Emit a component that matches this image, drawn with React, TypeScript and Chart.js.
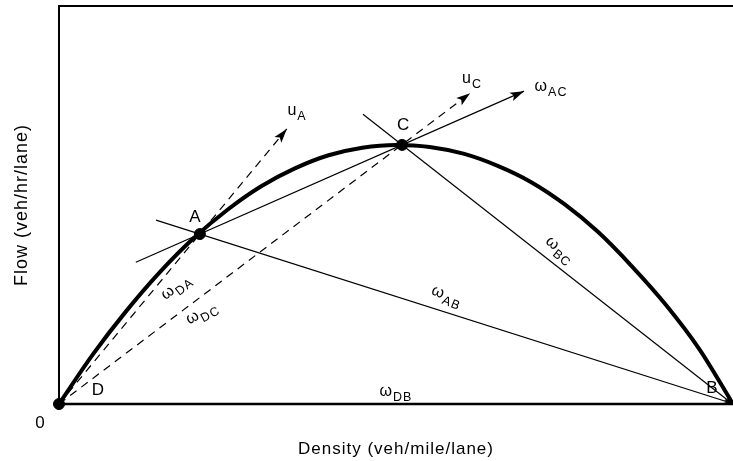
import React, { useEffect, useRef } from "react";
import { Chart, registerables } from "chart.js";

Chart.register(...registerables);

// Flow–density curve (density in % of jam density, flow in % of plot height)
const curveDensity = [0, 5, 10, 15, 20, 25, 30, 35, 40, 45, 50, 55, 60, 65, 70, 75, 80, 85, 90, 95, 100];
const curveFlow = [0, 12.4, 23.4, 33.2, 41.7, 48.8, 54.7, 59.2, 62.5, 64.4, 65.1, 64.6, 62.9, 59.9, 55.8, 50.2, 43.2, 34.6, 25.0, 13.8, 0];

// Named states on the curve
const stateNames = ["D", "A", "C", "B"];
const stateDensity = [0, 20.9, 50.9, 100];
const stateFlow = [0, 42.7, 65.1, 0];

// Rays and chords [start, end] in (density, flow)
const uADensity = [0, 33.8];
const uAFlow = [0, 69.1];
const uCDensity = [0, 61.0];
const uCFlow = [0, 78.1];
const wACDensity = [11.4, 69.0];
const wACFlow = [35.6, 78.6];
const wABDensity = [14.4, 99.8];
const wABFlow = [46.2, 0.2];
const wBCDensity = [45.1, 99.8];
const wBCFlow = [72.8, 0.2];

const xTitle = "Density (veh/mile/lane)";
const yTitle = "Flow (veh/hr/lane)";

const zip = (xs: number[], ys: number[]) => xs.map((x, i) => ({ x, y: ys[i] }));

const FONT = "'Liberation Sans', Arial, sans-serif";

function drawSub(ctx: CanvasRenderingContext2D, x: number, y: number, angleDeg: number, base: string, sub: string) {
  ctx.save();
  ctx.translate(x, y);
  ctx.rotate((angleDeg * Math.PI) / 180);
  ctx.fillStyle = "#000";
  ctx.textBaseline = "alphabetic";
  ctx.textAlign = "left";
  ctx.font = `16px ${FONT}`;
  (ctx as any).letterSpacing = "0px";
  const bw = ctx.measureText(base).width;
  ctx.font = `12.5px ${FONT}`;
  (ctx as any).letterSpacing = "1px";
  const sw = ctx.measureText(sub).width;
  const left = -(bw + 1 + sw) / 2;
  ctx.font = `16px ${FONT}`;
  (ctx as any).letterSpacing = "0px";
  ctx.fillText(base, left, 4);
  ctx.font = `12.5px ${FONT}`;
  (ctx as any).letterSpacing = "1px";
  ctx.fillText(sub, left + bw + 1, 9);
  ctx.restore();
}

function arrowHead(ctx: CanvasRenderingContext2D, x0: number, y0: number, x1: number, y1: number, len: number, half: number) {
  const a = Math.atan2(y1 - y0, x1 - x0);
  ctx.save();
  ctx.translate(x1, y1);
  ctx.rotate(a);
  ctx.beginPath();
  ctx.moveTo(0, 0);
  ctx.lineTo(-len, half);
  ctx.lineTo(-len + 3, 0);
  ctx.lineTo(-len, -half);
  ctx.closePath();
  ctx.fillStyle = "#000";
  ctx.fill();
  ctx.restore();
}

const decorPlugin = {
  id: "decor",
  afterDatasetsDraw(chart: any) {
    const ctx: CanvasRenderingContext2D = chart.ctx;
    const xs = chart.scales.x;
    const ys = chart.scales.y;
    const { left, right, top, bottom } = chart.chartArea;
    const px = (v: number) => xs.getPixelForValue(v);
    const py = (v: number) => ys.getPixelForValue(v);

    // frame / axes
    ctx.save();
    ctx.strokeStyle = "#000";
    ctx.lineWidth = 2;
    ctx.beginPath();
    ctx.moveTo(left, bottom);
    ctx.lineTo(left, top);
    ctx.lineTo(right, top);
    ctx.stroke();
    ctx.lineWidth = 2.5;
    ctx.beginPath();
    ctx.moveTo(left, bottom);
    ctx.lineTo(right, bottom);
    ctx.stroke();
    ctx.restore();

    // arrowheads
    arrowHead(ctx, px(uADensity[0]), py(uAFlow[0]), px(uADensity[1]), py(uAFlow[1]), 14, 4.5);
    arrowHead(ctx, px(uCDensity[0]), py(uCFlow[0]), px(uCDensity[1]), py(uCFlow[1]), 14, 4.5);
    arrowHead(ctx, px(wACDensity[0]), py(wACFlow[0]), px(wACDensity[1]), py(wACFlow[1]), 14, 4.5);
    arrowHead(ctx, px(wABDensity[0]), py(wABFlow[0]), px(wABDensity[1]), py(wABFlow[1]), 8, 2.5);
    arrowHead(ctx, px(wBCDensity[0]), py(wBCFlow[0]), px(wBCDensity[1]), py(wBCFlow[1]), 8, 2.5);

    // state letters, offset from their points
    const offsets: Record<string, [number, number]> = { D: [39, -14], A: [-5, -17], C: [1, -20], B: [-21, -16] };
    ctx.save();
    ctx.fillStyle = "#000";
    ctx.font = `17px ${FONT}`;
    ctx.textAlign = "center";
    ctx.textBaseline = "middle";
    stateNames.forEach((n, i) => {
      const o = offsets[n];
      ctx.fillText(n, px(stateDensity[i]) + o[0], py(stateFlow[i]) + o[1]);
    });
    ctx.fillText("0", left - 19, bottom + 19);
    ctx.restore();

    // wave / speed labels
    drawSub(ctx, 297, 111, 0, "u", "A");
    drawSub(ctx, 472, 79, 0, "u", "C");
    drawSub(ctx, 551, 87, 0, "ω", "AC");
    drawSub(ctx, 396, 392, 0, "ω", "DB");
    drawSub(ctx, 176, 287, -38, "ω", "DA");
    drawSub(ctx, 202, 313, -28, "ω", "DC");
    drawSub(ctx, 447, 296, 22, "ω", "AB");
    drawSub(ctx, 560, 250, 40, "ω", "BC");

    // axis titles
    ctx.save();
    ctx.fillStyle = "#000";
    ctx.font = `17px ${FONT}`;
    (ctx as any).letterSpacing = "1px";
    ctx.textAlign = "center";
    ctx.textBaseline = "middle";
    ctx.fillText(xTitle, (left + right) / 2, bottom + 45);
    ctx.font = `18px ${FONT}`;
    ctx.translate(22, (top + bottom) / 2);
    ctx.rotate(-Math.PI / 2);
    ctx.fillText(yTitle, 0, 0);
    ctx.restore();
  },
};

export default function App() {
  const ref = useRef<HTMLCanvasElement | null>(null);
  useEffect(() => {
    if (!ref.current) return;
    const solid = { borderColor: "#000", borderWidth: 1.2, pointRadius: 0, showLine: true, clip: false as any, fill: false };
    const dashed = { ...solid, borderDash: [8, 6] };
    const chart = new Chart(ref.current, {
      type: "scatter",
      data: {
        datasets: [
          { ...solid, label: "curve", data: zip(curveDensity, curveFlow), borderWidth: 4, tension: 0.4, cubicInterpolationMode: "monotone" } as any,
          { ...dashed, label: "uA", data: zip(uADensity, uAFlow) },
          { ...dashed, label: "uC", data: zip(uCDensity, uCFlow) },
          { ...solid, label: "wAC", data: zip(wACDensity, wACFlow) },
          { ...solid, label: "wAB", data: zip(wABDensity, wABFlow) },
          { ...solid, label: "wBC", data: zip(wBCDensity, wBCFlow) },
          {
            label: "states",
            data: zip(stateDensity.slice(0, 3), stateFlow.slice(0, 3)),
            pointRadius: 5.5,
            pointBackgroundColor: "#000",
            pointBorderColor: "#000",
            showLine: false,
            clip: false as any,
          },
        ],
      },
      options: {
        animation: false,
        responsive: false,
        maintainAspectRatio: false,
        devicePixelRatio: 1,
        layout: { autoPadding: false, padding: { left: 59, right: 0, top: 6, bottom: 57 } },
        plugins: { legend: { display: false }, tooltip: { enabled: false } },
        scales: {
          x: { type: "linear", min: 0, max: 100, display: false },
          y: { type: "linear", min: 0, max: 100, display: false },
        },
      },
      plugins: [decorPlugin],
    });
    return () => chart.destroy();
  }, []);
  return (
    <div style={{ position: "fixed", left: 0, top: 0, width: 733, height: 461, background: "#fff", overflow: "hidden" }}>
      <canvas ref={ref} width={733} height={461} style={{ display: "block", width: 733, height: 461 }} />
    </div>
  );
}
